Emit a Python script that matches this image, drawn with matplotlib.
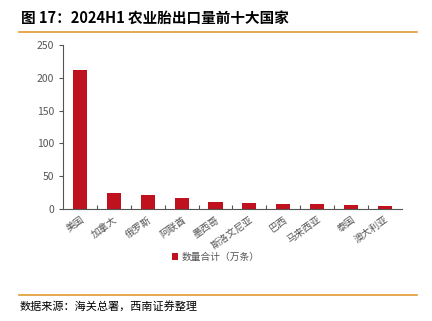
import matplotlib.pyplot as plt
import numpy as np
from matplotlib.lines import Line2D

plt.rcParams['font.family'] = ['Noto Sans CJK SC', 'DejaVu Sans']

countries = ['美国', '加拿大', '俄罗斯', '阿联酋', '墨西哥', '斯洛文尼亚',
             '巴西', '马来西亚', '泰国', '澳大利亚']
volumes = [212, 24, 22, 16, 10, 8.5, 8, 7, 5.5, 4.5]
yticks = [0, 50, 100, 150, 200, 250]

bar_color = '#C0111F'
gray = '#555555'

fig = plt.figure(figsize=(4.32, 3.21), dpi=100)
ax = fig.add_axes([0.146, 0.349, 0.784, 0.511])

x = np.arange(len(countries))
ax.bar(x, volumes, width=0.42, color=bar_color, label='数量合计（万条）')

ax.set_xlim(-0.5, len(countries) - 0.5)
ax.set_ylim(0, 250)
ax.set_yticks(yticks)
ax.tick_params(axis='y', labelsize=7.5, colors=gray, length=3, width=0.8)
ax.set_xticks(x)
ax.set_xticklabels(countries, rotation=35, ha='right', rotation_mode='anchor',
                   fontsize=7, color=gray)
ax.tick_params(axis='x', which='major', length=0, pad=4)
ax.set_xticks(np.arange(0.5, len(countries) - 0.5, 1), minor=True)
ax.tick_params(axis='x', which='minor', direction='in', length=3, color=gray, width=0.8)

for s in ['top', 'right']:
    ax.spines[s].set_visible(False)
for s in ['left', 'bottom']:
    ax.spines[s].set_color(gray)
    ax.spines[s].set_linewidth(0.8)

ax.legend(loc='upper center', bbox_to_anchor=(0.45, -0.21), frameon=False,
          fontsize=7, handlelength=0.7, handleheight=0.7, handletextpad=0.3,
          labelcolor=gray)

fig.text(0.048, 0.944, '图 17：2024H1 农业胎出口量前十大国家', fontsize=10.5,
         fontweight='bold', va='center', ha='left')
fig.add_artist(Line2D([0.045, 0.965], [0.9, 0.9], color='#E09A30', lw=1.2))
fig.add_artist(Line2D([0.045, 0.965], [0.081, 0.081], color='#E09A30', lw=1.2))
fig.text(0.045, 0.045, '数据来源：海关总署，西南证券整理', fontsize=8,
         style='italic', va='center', ha='left')

fig.savefig('out.png', dpi=100)
